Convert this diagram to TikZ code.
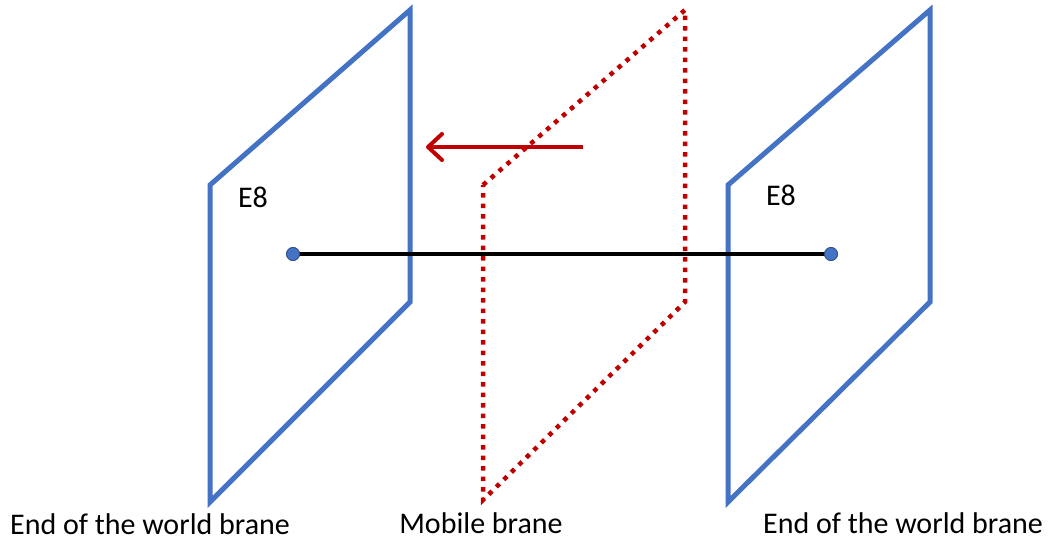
\documentclass[tikz,border=0pt]{standalone}
\usepackage{fontspec}
\setmainfont{Carlito}
\usetikzlibrary{arrows.meta}
\definecolor{braneblue}{RGB}{68,114,196}
\definecolor{branered}{RGB}{192,0,0}
\tikzset{
  wall/.style={draw=braneblue,line width=5pt,line join=miter},
  mobile/.style={draw=branered,line width=4.5pt,dash pattern=on 4.5pt off 6pt},
  endpt/.style={circle,fill=braneblue,draw=braneblue!70!black,line width=0.8pt,inner sep=0pt,minimum size=13pt},
  lbl/.style={font=\fontsize{30}{34}\selectfont,inner sep=0pt},
}
\begin{document}
\begin{tikzpicture}[x=1pt,y=-1pt]
\useasboundingbox (0,0) rectangle (1051,541);
% left brane
\coordinate (la) at (210,185); \coordinate (lb) at (410,10);
\coordinate (lc) at (410,302); \coordinate (ld) at (210,502);
\draw[wall] (la) -- (lb) -- (lc) -- (ld) -- cycle;
% mobile brane
\coordinate (ma) at (483,185); \coordinate (mb) at (685,10);
\coordinate (mc) at (685,302); \coordinate (md) at (483,500);
\draw[mobile] (ma) -- (mb) -- (mc) -- (md) -- cycle;
% right brane
\coordinate (ra) at (728,185); \coordinate (rb) at (930,10);
\coordinate (rc) at (930,302); \coordinate (rd) at (728,502);
\draw[wall] (ra) -- (rb) -- (rc) -- (rd) -- cycle;
% black line
\node[endpt] (p1) at (293,254) {};
\node[endpt] (p2) at (831,254) {};
\draw[black,line width=4pt] (p1.center) -- (p2.center);
\node[endpt] at (p1) {};
\node[endpt] at (p2) {};
% arrow
\coordinate (as) at (583,147); \coordinate (ae) at (426,147);
\draw[branered,line width=4pt,-{Straight Barb[length=14pt,width=26pt,line width=4pt,round]}] (as) -- (ae);
% labels
\node[lbl] (e1) at (253,197) {E8};
\node[lbl] (e2) at (781,195) {E8};
\node[lbl] (t1) at (150,524) {End of the world brane};
\node[lbl] (t2) at (481,523) {Mobile brane};
\node[lbl] (t3) at (903,523) {End of the world brane};
\end{tikzpicture}
\end{document}
